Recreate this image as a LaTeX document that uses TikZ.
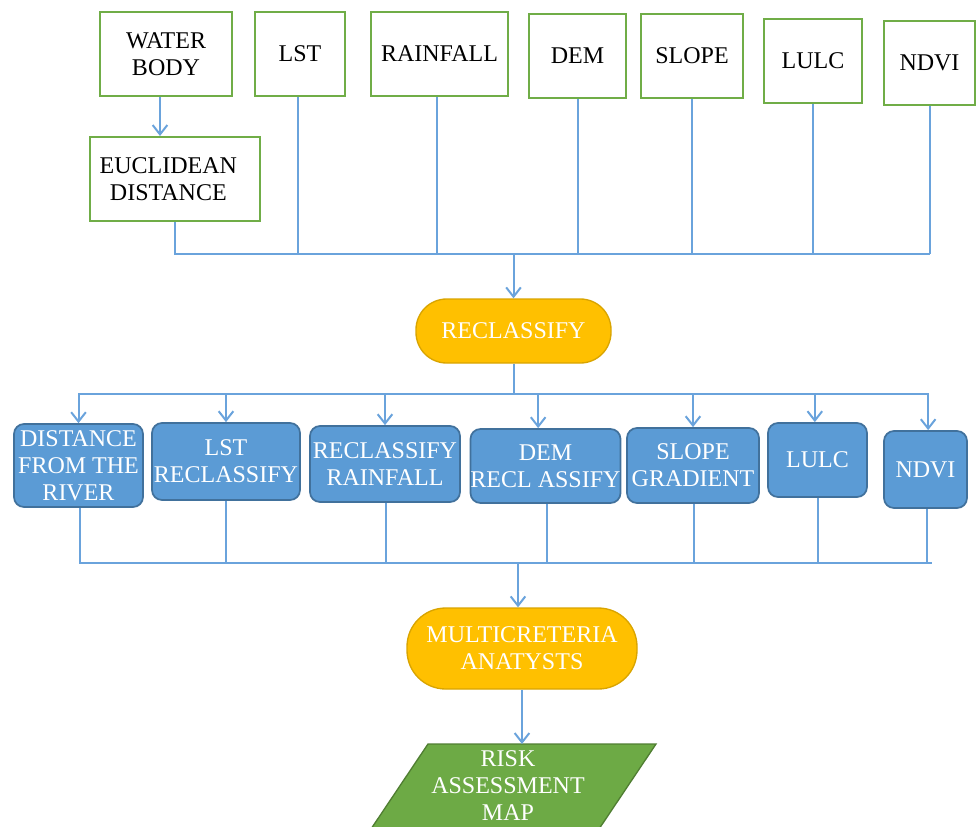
\documentclass[tikz,border=0pt]{standalone}
\usepackage{fontspec}
\setmainfont{Liberation Serif}
\usetikzlibrary{arrows.meta}
\definecolor{gborder}{HTML}{70AD47}
\definecolor{lblue}{HTML}{6AA3DC}
\definecolor{bfill}{HTML}{5B9BD5}
\definecolor{bborder}{HTML}{41719C}
\definecolor{yfill}{HTML}{FFC000}
\definecolor{yborder}{HTML}{D9A400}
\definecolor{pfill}{HTML}{6DAA45}
\definecolor{pborder}{HTML}{507E32}
\begin{document}
\begin{tikzpicture}[x=0.75pt,y=-0.75pt,
 txt/.style={font=\fontsize{18}{20.25}\selectfont, align=center, inner sep=0pt},
 gbox/.style={txt, draw=gborder, line width=1.5pt, fill=white, minimum height=63pt},
 bbox/.style={txt, draw=bborder, line width=1.3pt, fill=bfill, rounded corners=7.5pt, text=white},
 pill/.style={txt, draw=yborder, line width=1pt, fill=yfill, text=white},
 ln/.style={draw=lblue, line width=1.5pt},
 arr/.style={ln, -{Straight Barb[length=7pt,width=11pt]}}]
\useasboundingbox (0,0) rectangle (976,826);
\clip (0,0) rectangle (976,826);

% top row
\node[gbox, minimum width=99pt] (wb) at (166,54) {WATER\\BODY};
\node[gbox, minimum width=67.5pt] (lst) at (300,54) {LST};
\node[gbox, minimum width=102.75pt] (rain) at (439.5,54) {RAINFALL};
\node[gbox, minimum width=72.75pt] (dem) at (577.5,56) {DEM};
\node[gbox, minimum width=76.5pt] (slope) at (692,56) {SLOPE};
\node[gbox, minimum width=73.5pt] (lulc) at (813,61) {LULC};
\node[gbox, minimum width=68pt] (ndvi) at (929.5,63) {NDVI};
\node[gbox, minimum width=127.5pt] (eucl) at (175,179) {EUCLIDEAN\hspace*{10pt}\\DISTANCE\hspace*{10pt}};

\draw[arr] ([xshift=-4.5pt]wb.south) -- ([xshift=-4.5pt]wb.south |- eucl.north);

% first bus
\coordinate (b1L) at (175,254);
\coordinate (b1R) at (930,254);
\draw[ln] (eucl.south) -- (eucl.south |- b1L) -- (b1R);
\draw[ln] ([xshift=-1.5pt]lst.south) -- ([xshift=-1.5pt]lst.south |- b1L);
\draw[ln] ([xshift=-2pt]rain.south) -- ([xshift=-2pt]rain.south |- b1L);
\draw[ln] (dem.south) -- (dem.south |- b1L);
\draw[ln] (slope.south) -- (slope.south |- b1L);
\draw[ln] (lulc.south) -- (lulc.south |- b1L);
\draw[ln] (ndvi.south) -- (ndvi.south |- b1L);

% reclassify
\node[pill, minimum width=146.25pt, minimum height=48pt, rounded corners=23pt] (recl) at (513.5,331) {RECLASSIFY};
\draw[arr] (recl.north |- b1L) -- (recl.north);

% second bus
\coordinate (b2L) at (78,394);
\coordinate (b2R) at (929,394);
\draw[ln] (recl.south) -- (recl.south |- b2L);
\draw[ln] (b2L) -- (b2R);

% blue boxes
\node[bbox, minimum width=96.75pt, minimum height=62.25pt] (dist) at (78.5,465.5) {DISTANCE\\FROM THE\\RIVER};
\node[bbox, minimum width=111pt, minimum height=57.75pt] (lstr) at (226,461.5) {LST\\RECLASSIFY};
\node[bbox, minimum width=112.5pt, minimum height=57pt] (rainr) at (385,464) {RECLASSIFY\\RAINFALL};
\node[bbox, minimum width=110.25pt, minimum height=55.5pt] (demr) at (545.5,466) {DEM\\RECL ASSIFY};
\node[bbox, minimum width=99pt, minimum height=56.25pt] (sloper) at (693,465.5) {SLOPE\\GRADIENT};
\node[bbox, minimum width=74.25pt, minimum height=55.5pt] (lulcr) at (817.5,460) {LULC};
\node[bbox, minimum width=62.25pt, minimum height=57.75pt] (ndvir) at (925.5,469.5) {NDVI};

\draw[arr] (dist.north |- b2L) -- (dist.north);
\draw[arr] (lstr.north |- b2L) -- (lstr.north);
\draw[arr] (rainr.north |- b2L) -- (rainr.north);
\draw[arr] ([xshift=-5.5pt]demr.north |- b2L) -- ([xshift=-5.5pt]demr.north);
\draw[arr] (sloper.north |- b2L) -- (sloper.north);
\draw[arr] ([xshift=-2pt]lulcr.north |- b2L) -- ([xshift=-2pt]lulcr.north);
\draw[arr] ([xshift=2pt]ndvir.north |- b2L) -- ([xshift=2pt]ndvir.north);

% third bus
\coordinate (b3L) at (80,563);
\coordinate (b3R) at (932,563);
\draw[ln] ([xshift=1pt]dist.south) -- ([xshift=1pt]dist.south |- b3L) -- (b3R);
\draw[ln] (lstr.south) -- (lstr.south |- b3L);
\draw[ln] ([xshift=1pt]rainr.south) -- ([xshift=1pt]rainr.south |- b3L);
\draw[ln] ([xshift=1pt]demr.south) -- ([xshift=1pt]demr.south |- b3L);
\draw[ln] ([xshift=1pt]sloper.south) -- ([xshift=1pt]sloper.south |- b3L);
\draw[ln] (lulcr.south) -- (lulcr.south |- b3L);
\draw[ln] ([xshift=1pt]ndvir.south) -- ([xshift=1pt]ndvir.south |- b3L);

% multicriteria
\node[pill, minimum width=172.5pt, minimum height=60.75pt, rounded corners=29pt] (mult) at (522,648.5) {MULTICRETERIA\\ANATYSTS};
\draw[arr] ([xshift=-3pt]mult.north |- b3L) -- ([xshift=-3pt]mult.north);

% risk map
\fill[pfill, draw=pborder, line width=1pt] (428,744) -- (656,744) -- (564.8,880) -- (336.8,880) -- cycle;
\coordinate (rtop) at (522,744);
\node[txt, text=white] (risk) at (508,786) {RISK\\ASSESSMENT\\MAP};
\draw[arr] (mult.south) -- (rtop);
\end{tikzpicture}
\end{document}
